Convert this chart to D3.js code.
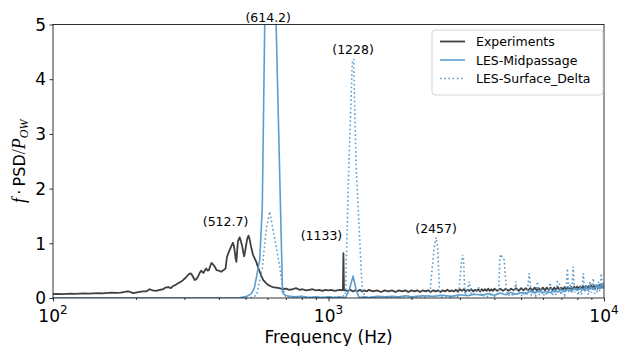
<!DOCTYPE html>
<html>
<head>
<meta charset="utf-8">
<script src="https://cdn.jsdelivr.net/npm/d3@7/dist/d3.min.js"></script>
<style>
  html, body { margin: 0; padding: 0; background: #fff; }
  svg { display: block; font-family: "DejaVu Sans", sans-serif; }
</style>
</head>
<body>
<svg id="chart" width="620" height="346"></svg>
<script>
// Spectra: [frequency in Hz, f*PSD/P_ow]
const experiments = [
  [100,0.07],[104,0.075],[108,0.07],[112,0.075],[116,0.08],[120,0.075],[125,0.08],[130,0.085],
  [135,0.08],[140,0.085],[146,0.09],[152,0.085],[158,0.095],[164,0.1],[170,0.095],[176,0.1],
  [182,0.11],[186,0.12],[190,0.115],[195,0.09],[200,0.1],[206,0.11],[212,0.12],[218,0.12],
  [224,0.16],[230,0.14],[237,0.13],[244,0.15],[251,0.16],[256,0.19],[262,0.2],[268,0.18],
  [273,0.22],[279,0.24],[284,0.27],[290,0.29],[297,0.33],[303,0.37],[309,0.42],[314,0.45],
  [318,0.44],[323,0.38],[327,0.33],[332,0.35],[336,0.39],[341,0.46],[345,0.5],[349,0.47],
  [352,0.46],[356,0.51],[360,0.54],[364,0.5],[368,0.51],[372,0.58],[376,0.64],[380,0.62],
  [383,0.6],[388,0.56],[392,0.51],[400,0.5],[408,0.48],[416,0.51],[423,0.54],[428,0.75],
  [433,0.82],[438,0.88],[444,0.95],[450,1.01],[453,0.96],[456,0.88],[460,0.72],[463,0.66],
  [466,0.85],[469,1.03],[473,1.08],[476,1.11],[480,1.05],[485,0.97],[490,0.85],[494,0.76],
  [498,0.85],[503,0.99],[508,1.1],[512.7,1.14],[518,1.06],[522,0.97],[527,0.88],[532,0.79],
  [540,0.72],[547,0.66],[555,0.56],[563,0.48],[571,0.4],[579,0.33],[591,0.28],[603,0.24],
  [615,0.22],[626,0.2],[645,0.19],[663,0.18],[683,0.16],[702,0.17],[720,0.15],[740,0.16],
  [762,0.18],[785,0.15],[805,0.16],[830,0.14],[850,0.15],[875,0.16],[900,0.14],[925,0.15],
  [950,0.13],[975,0.15],[1000,0.14],[1025,0.15],[1050,0.13],[1075,0.14],[1100,0.15],[1120,0.14],
  [1128,0.15],[1133,0.82],[1138,0.14],[1150,0.14],[1175,0.13],[1200,0.15],[1225,0.12],[1250,0.14],
  [1275,0.12],[1300,0.15],[1325,0.12],[1350,0.14],[1375,0.12],[1400,0.15],[1450,0.12],[1500,0.14],
  [1550,0.11],[1600,0.14],[1650,0.12],[1700,0.14],[1750,0.11],[1800,0.14],[1850,0.12],[1900,0.14],
  [1950,0.11],[2000,0.14],[2050,0.12],[2100,0.14],[2150,0.11],[2200,0.14],[2250,0.12],[2300,0.14],
  [2350,0.11],[2400,0.14],[2450,0.12],[2500,0.14],[2550,0.11],[2600,0.14],[2650,0.12],[2700,0.15],
  [2750,0.12],[2800,0.14],[2850,0.12],[2900,0.15],[2950,0.12],[3000,0.16],[3050,0.13],[3100,0.16],
  [3150,0.12],[3200,0.15],[3250,0.13],[3300,0.16],[3350,0.12],[3400,0.15],[3450,0.13],[3500,0.16],
  [3550,0.12],[3600,0.16],[3650,0.13],[3700,0.16],[3750,0.13],[3800,0.17],[3850,0.13],[3900,0.16],
  [3950,0.13],[4000,0.17],[4100,0.13],[4200,0.17],[4300,0.13],[4400,0.17],[4500,0.13],[4600,0.17],
  [4700,0.14],[4800,0.18],[4900,0.13],[5000,0.18],[5100,0.14],[5200,0.18],[5300,0.14],[5400,0.18],
  [5500,0.14],[5600,0.19],[5700,0.14],[5800,0.18],[5900,0.14],[6000,0.19],[6100,0.14],[6200,0.19],
  [6300,0.15],[6400,0.19],[6500,0.14],[6600,0.19],[6700,0.15],[6800,0.2],[6900,0.15],[7000,0.19],
  [7100,0.15],[7200,0.2],[7300,0.15],[7400,0.2],[7500,0.16],[7600,0.2],[7700,0.15],[7800,0.21],
  [7900,0.16],[8000,0.21],[8100,0.16],[8200,0.21],[8300,0.16],[8400,0.22],[8500,0.16],[8600,0.22],
  [8700,0.17],[8800,0.22],[8900,0.17],[9000,0.23],[9100,0.17],[9200,0.23],[9300,0.18],[9400,0.23],
  [9500,0.18],[9600,0.24],[9700,0.18],[9800,0.24],[9900,0.19],[10000,0.23]
];

const lesMidpassage = [
  [100,0],[200,0],[300,0],[400,0],[470,0],[505,0.03],[525,0.08],[539,0.2],[563,0.7],[575,1.67],
  [594,7.0],[614.2,9.5],[635,6.5],[681,0.1],[700,0.04],[750,0.02],[800,0.03],[850,0.01],[900,0.02],
  [950,0.01],[1000,0.02],[1050,0.01],[1100,0.02],[1150,0],[1190,0.15],[1228,0.4],[1260,0.15],
  [1290,0.01],[1350,0.02],[1400,0.01],[1500,0.03],[1600,0.02],[1700,0.03],[1800,0.02],[1900,0.04],
  [2000,0.02],[2200,0.04],[2400,0.03],[2600,0.05],[2800,0.03],[3000,0.06],[3200,0.04],[3400,0.07],
  [3600,0.05],[3800,0.08],[4000,0.05],[4200,0.09],[4400,0.06],[4600,0.1],[4800,0.07],[5000,0.1],
  [5200,0.08],[5400,0.12],[5600,0.09],[5800,0.13],[6000,0.1],[6200,0.12],[6400,0.1],[6600,0.14],
  [6800,0.11],[7000,0.15],[7200,0.12],[7400,0.16],[7600,0.13],[7800,0.17],[8000,0.14],[8200,0.18],
  [8400,0.15],[8600,0.19],[8800,0.16],[9000,0.2],[9200,0.17],[9400,0.22],[9600,0.18],[9800,0.23],
  [10000,0.2]
];

const lesSurfaceDelta = [
  [100,0],[300,0],[450,0],[520,0],[548,0.05],[575,0.55],[594,1.25],[612,1.58],[637,1.1],[664,0.6],
  [683,0.17],[700,0.03],[750,0.01],[800,0.02],[900,0.01],[1000,0.02],[1100,0.01],[1152,0.05],
  [1185,2.4],[1220,4.3],[1235,4.37],[1243,3.6],[1260,2.4],[1295,1.18],[1325,0.15],[1360,0.02],
  [1450,0.01],[1550,0.03],[1650,0.01],[1750,0.02],[1850,0.01],[1950,0.03],[2050,0.01],[2150,0.02],
  [2250,0.01],[2330,0.05],[2356,0.33],[2388,0.64],[2422,0.94],[2457,1.11],[2489,0.94],[2510,0.51],
  [2525,0.2],[2540,0.01],[2650,0.03],[2750,0.01],[2850,0.04],[2940,0.02],[2983,0.2],[3026,0.57],
  [3067,0.79],[3093,0.7],[3111,0.33],[3129,0.05],[3180,0.1],[3243,0.3],[3300,0.05],[3400,0.08],
  [3525,0.2],[3600,0.03],[3700,0.05],[3800,0.02],[3900,0.06],[4000,0.03],[4100,0.06],[4150,0.15],
  [4190,0.75],[4230,0.8],[4280,0.72],[4342,0.7],[4415,0.2],[4480,0.04],[4600,0.08],[4700,0.03],
  [4786,0.3],[4850,0.05],[4950,0.1],[5050,0.03],[5150,0.12],[5250,0.05],[5350,0.45],[5450,0.06],
  [5550,0.12],[5650,0.04],[5733,0.3],[5820,0.05],[5920,0.15],[6020,0.04],[6120,0.1],[6220,0.05],
  [6380,0.28],[6480,0.04],[6600,0.12],[6680,0.05],[6773,0.3],[6880,0.28],[6980,0.06],[7080,0.15],
  [7200,0.05],[7300,0.2],[7362,0.54],[7450,0.1],[7550,0.25],[7640,0.08],[7722,0.57],[7820,0.1],
  [7950,0.2],[8050,0.05],[8200,0.18],[8300,0.06],[8414,0.45],[8520,0.1],[8650,0.22],[8780,0.06],
  [8900,0.3],[9000,0.1],[9146,0.36],[9250,0.08],[9350,0.25],[9450,0.1],[9550,0.3],[9650,0.12],
  [9777,0.45],[9880,0.15],[10000,0.3]
];

// Peak annotations: [frequency, value the label sits above, text]
const peakLabels = [
  [512.7, 1.14, "(512.7)"],
  [614.2, 5.0, "(614.2)"],
  [1133, 0.82, "(1133)"],
  [1228, 4.37, "(1228)"],
  [2457, 1.11, "(2457)"]
];

const xMajorTicks = [100, 1000, 10000];
const xTickExponents = ["2", "3", "4"];
const yTicks = [0, 1, 2, 3, 4, 5];

const seriesNames = ["Experiments", "LES-Midpassage", "LES-Surface_Delta"];

const COLOR_EXP = "#404040";
const COLOR_LES = "#5c9dcd";

const margin = { left: 53, right: 604, top: 24.5, bottom: 298 };

const svg = d3.select("#chart");

const x = d3.scaleLog().domain([100, 10000]).range([margin.left, margin.right]);
const y = d3.scaleLinear().domain([0, 5]).range([margin.bottom, margin.top]);

svg.append("defs").append("clipPath").attr("id", "plotClip")
  .append("rect")
  .attr("x", margin.left).attr("y", margin.top)
  .attr("width", margin.right - margin.left)
  .attr("height", margin.bottom - margin.top);

const line = d3.line().x(d => x(d[0])).y(d => y(d[1]));

const plot = svg.append("g").attr("clip-path", "url(#plotClip)");

plot.append("path").datum(experiments)
  .attr("d", line).attr("fill", "none")
  .attr("stroke", COLOR_EXP).attr("stroke-width", 1.8)
  .attr("stroke-linejoin", "round");

plot.append("path").datum(lesMidpassage)
  .attr("d", line).attr("fill", "none")
  .attr("stroke", COLOR_LES).attr("stroke-width", 1.6)
  .attr("stroke-linejoin", "round");

plot.append("path").datum(lesSurfaceDelta)
  .attr("d", line).attr("fill", "none")
  .attr("stroke", COLOR_LES).attr("stroke-width", 1.6)
  .attr("stroke-dasharray", "1.6,2.6");

// Axes
const minorTicks = [];
[100, 1000].forEach(dec => { for (let k = 2; k <= 9; k++) minorTicks.push(dec * k); });

const xAxisMajor = d3.axisBottom(x).tickValues(xMajorTicks).tickSize(3.5).tickFormat("");
const xAxisMinor = d3.axisBottom(x).tickValues(minorTicks).tickSize(2).tickFormat("");
const yAxis = d3.axisLeft(y).tickValues(yTicks).tickSize(3.5).tickFormat("");

function styleAxis(g) {
  g.select(".domain").remove();
  g.selectAll(".tick line").attr("stroke", "#000").attr("stroke-width", 0.8);
}

svg.append("g").attr("transform", `translate(0,${margin.bottom})`).call(xAxisMajor).call(styleAxis);
svg.append("g").attr("transform", `translate(0,${margin.bottom})`).call(xAxisMinor).call(styleAxis);
svg.append("g").attr("transform", `translate(${margin.left},0)`).call(yAxis).call(styleAxis);

svg.append("rect")
  .attr("x", margin.left).attr("y", margin.top)
  .attr("width", margin.right - margin.left)
  .attr("height", margin.bottom - margin.top)
  .attr("fill", "none").attr("stroke", "#000").attr("stroke-width", 0.8);

// Tick labels
const xLab = svg.append("g").attr("font-size", 17).attr("fill", "#000");
xMajorTicks.forEach((v, i) => {
  const t = xLab.append("text").attr("x", x(v)).attr("y", 322).attr("text-anchor", "middle");
  t.append("tspan").text("10");
  t.append("tspan").attr("dy", -8).attr("font-size", 12).text(xTickExponents[i]);
});

svg.append("g").attr("font-size", 17).selectAll("text").data(yTicks).join("text")
  .attr("x", 46).attr("y", d => y(d) + 6.2)
  .attr("text-anchor", "end").text(d => d);

// Axis titles
svg.append("text")
  .attr("x", (margin.left + margin.right) / 2).attr("y", 342.5)
  .attr("text-anchor", "middle").attr("font-size", 17)
  .text("Frequency (Hz)");

const mathFont = "Liberation Serif";
const yTitle = svg.append("text")
  .attr("transform", `translate(24.5,${(margin.top + margin.bottom) / 2}) rotate(-90)`)
  .attr("text-anchor", "middle").attr("font-size", 16);
yTitle.append("tspan").attr("font-family", mathFont).attr("font-style", "italic")
  .attr("font-size", 18).text("f");
yTitle.append("tspan").text("\u2009\u00b7\u2009PSD");
yTitle.append("tspan").attr("font-family", mathFont).attr("font-size", 18).text("/");
yTitle.append("tspan").attr("font-family", mathFont).attr("font-style", "italic")
  .attr("font-size", 18).text("P");
yTitle.append("tspan").attr("font-family", mathFont).attr("font-style", "italic")
  .attr("font-size", 12).attr("dy", 3).text("OW");

// Peak annotations
const labelOffset = { "(512.7)": 9.5, "(614.2)": 3, "(1133)": 13, "(1228)": 4.5, "(2457)": 4 };
svg.append("g").attr("font-size", 12.5).selectAll("text").data(peakLabels).join("text")
  .attr("x", d => x(d[0]) + (d[2] === "(512.7)" ? -23 : d[2] === "(1133)" ? -22 : d[2] === "(614.2)" ? -2 : 0))
  .attr("y", d => y(d[1]) - labelOffset[d[2]])
  .attr("text-anchor", "middle")
  .text(d => d[2]);

// Legend
const legend = svg.append("g");
legend.append("rect")
  .attr("x", 432).attr("y", 30).attr("width", 171).attr("height", 65).attr("rx", 3)
  .attr("fill", "#fff").attr("fill-opacity", 0.8)
  .attr("stroke", "#cccccc").attr("stroke-width", 0.8);

const legendStyles = [
  { color: COLOR_EXP, dash: null, width: 1.8 },
  { color: COLOR_LES, dash: null, width: 1.6 },
  { color: COLOR_LES, dash: "1.6,2.6", width: 1.6 }
];
seriesNames.forEach((name, i) => {
  const cy = 41.5 + i * 18.5;
  const s = legendStyles[i];
  const l = legend.append("line")
    .attr("x1", 440).attr("x2", 465).attr("y1", cy).attr("y2", cy)
    .attr("stroke", s.color).attr("stroke-width", s.width);
  if (s.dash) l.attr("stroke-dasharray", s.dash);
  legend.append("text").attr("x", 476).attr("y", cy + 4.5)
    .attr("font-size", 12.5).text(name);
});
</script>
</body>
</html>
